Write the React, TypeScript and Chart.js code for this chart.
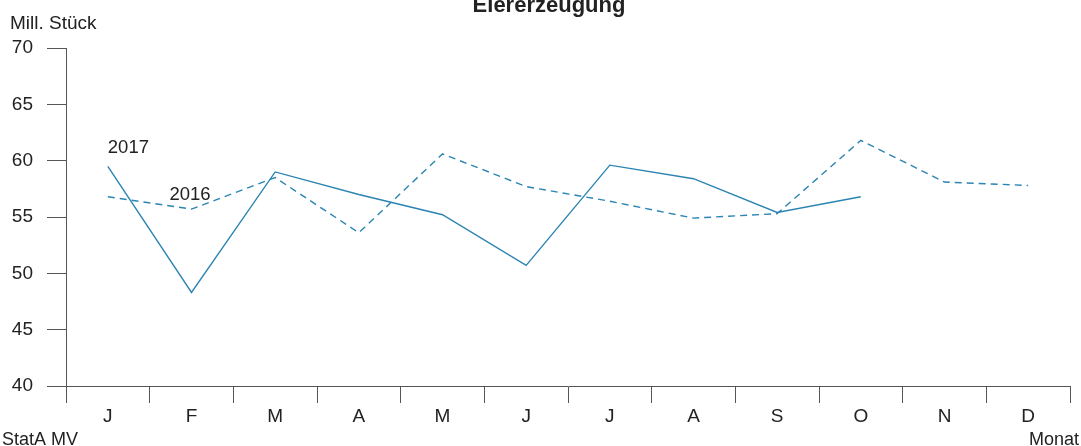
import React, { useEffect, useRef } from "react";
import { Chart, registerables } from "chart.js";

Chart.register(...registerables);

const months = ["J", "F", "M", "A", "M", "J", "J", "A", "S", "O", "N", "D"];
const values2017: (number | null)[] = [59.5, 48.3, 59.0, 57.0, 55.2, 50.7, 59.6, 58.4, 55.4, 56.8, null, null];
const values2016: number[] = [56.8, 55.7, 58.5, 53.6, 60.6, 57.7, 56.4, 54.9, 55.3, 61.8, 58.1, 57.8];
const yTicks = [40, 45, 50, 55, 60, 65, 70];

const title = "Eiererzeugung";
const unitLabel = "Mill. Stück";
const sourceLabel = "StatA MV";
const axisLabel = "Monat";
const lineColor = "#2b84b2";
const font = "'Liberation Sans', Arial, sans-serif";

export default function App() {
  const ref = useRef<HTMLCanvasElement | null>(null);

  useEffect(() => {
    document.body.style.margin = "0";
    const textPlugin = {
      id: "texts",
      afterDraw(chart: any) {
        const ctx = chart.ctx;
        const xs = chart.scales.x;
        const ys = chart.scales.y;
        ctx.save();
        ctx.fillStyle = "#222";
        ctx.font = `bold 22px ${font}`;
        ctx.textAlign = "center";
        ctx.textBaseline = "alphabetic";
        ctx.fillText(title, 549, 12);
        ctx.font = `19px ${font}`;
        ctx.textAlign = "left";
        ctx.fillText(unitLabel, 10, 29);
        ctx.font = `18px ${font}`;
        ctx.fillText(sourceLabel, 2, 445);
        ctx.textAlign = "right";
        ctx.fillText(axisLabel, 1079, 445);
        // series labels
        ctx.textAlign = "left";
        ctx.font = `18.5px ${font}`;
        ctx.fillText("2017", xs.getPixelForValue(0), ys.getPixelForValue(values2017[0] as number) - 13);
        ctx.fillText("2016", xs.getPixelForValue(1) - 22, ys.getPixelForValue(values2016[1]) - 9);
        ctx.restore();
      },
    };

    const chart = new Chart(ref.current as HTMLCanvasElement, {
      type: "line",
      data: {
        labels: months,
        datasets: [
          {
            label: "2017",
            data: values2017,
            borderColor: lineColor,
            borderWidth: 1.4,
            pointRadius: 0,
            tension: 0,
            fill: false,
          },
          {
            label: "2016",
            data: values2016,
            borderColor: lineColor,
            borderWidth: 1.4,
            borderDash: [7, 5],
            pointRadius: 0,
            tension: 0,
            fill: false,
          },
        ],
      },
      options: {
        animation: false,
        responsive: false,
        devicePixelRatio: 1,
        layout: { padding: { top: 48, left: 0, right: 11, bottom: 0 } },
        plugins: {
          legend: { display: false },
          title: { display: false },
          tooltip: { enabled: false },
        },
        scales: {
          x: {
            type: "category",
            offset: true,
            grid: {
              offset: true,
              drawOnChartArea: false,
              drawTicks: true,
              tickLength: 17,
              color: "#555",
              lineWidth: 1,
            },
            border: { display: true, color: "#555", width: 1 },
            ticks: {
              color: "#222",
              font: { family: font, size: 19 },
              padding: 2,
              maxRotation: 0,
              autoSkip: false,
            },
            afterFit(scale: any) {
              scale.height = 60;
            },
          },
          y: {
            min: 40,
            max: 70,
            afterBuildTicks(scale: any) {
              scale.ticks = yTicks.map((v) => ({ value: v }));
            },
            grid: {
              drawOnChartArea: false,
              drawTicks: true,
              tickLength: 19,
              color: "#555",
              lineWidth: 1,
            },
            border: { display: true, color: "#555", width: 1 },
            ticks: {
              color: "#222",
              font: { family: font, size: 19 },
              padding: 14,
            },
            afterFit(scale: any) {
              scale.width = 66;
            },
          },
        },
      },
      plugins: [textPlugin],
    });
    return () => chart.destroy();
  }, []);

  return (
    <div style={{ position: "relative", width: 1081, height: 446 }}>
      <canvas ref={ref} width={1081} height={446} style={{ display: "block" }} />
    </div>
  );
}
